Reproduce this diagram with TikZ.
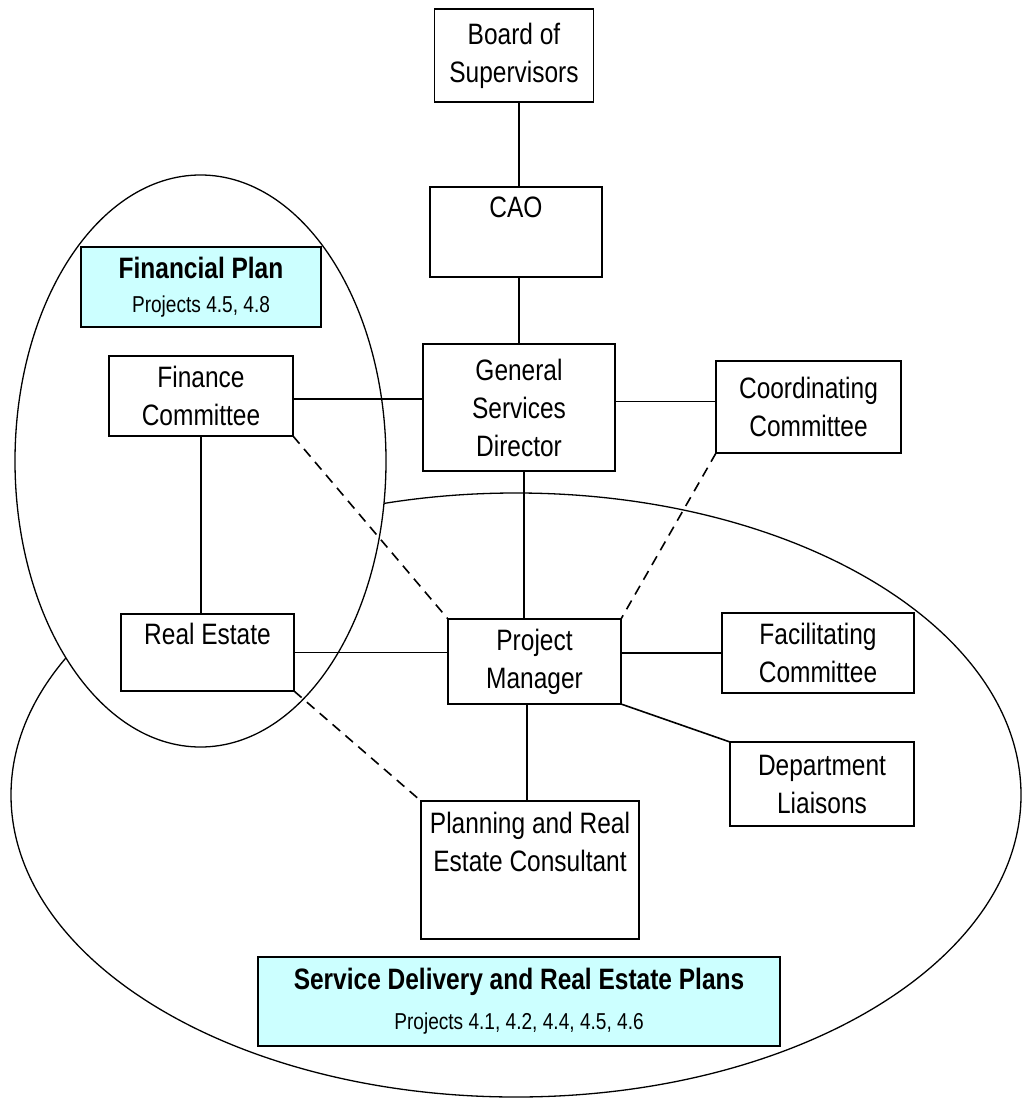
\documentclass[tikz,border=0pt]{standalone}
\usepackage{fontspec}
\setmainfont{Liberation Sans}[FakeStretch=0.83]
\usepackage{xcolor}
\usepackage{tikz}
\usetikzlibrary{positioning,calc}
\definecolor{planCyan}{RGB}{204,255,255}
\tikzset{
  orgbox/.style={
    rectangle, draw=black, line width=1.6pt, fill=white,
    inner sep=0pt, outer sep=0pt, align=center
  },
  planbox/.style={orgbox, fill=planCyan},
  link/.style={line width=1.6pt, draw=black},
  dashlink/.style={link, dash pattern=on 10pt off 7pt},
  scopering/.style={line width=1.3pt, draw=black}
}

\begin{document}
\begin{tikzpicture}[x=1pt, y=-1pt,
        font=\fontsize{29.5}{38}\selectfont,
        toplabel/.style={inner sep=0pt, align=center, anchor=north}]
  \useasboundingbox (0,0) rectangle (1021,1099);

  % the two scopes
  \draw[scopering] (516,795) ellipse [x radius=505pt, y radius=302pt];
  \draw[scopering, fill=white] (200.5,461) ellipse [x radius=185.5pt, y radius=286pt];

  % boxes
  \node[orgbox, minimum width=159pt, minimum height=93pt] (bos) at (514,55.5) {Board of\\Supervisors};
  \node[orgbox, minimum width=172pt, minimum height=90pt,
        label={[toplabel, yshift=-10pt]north:CAO}] (cao) at (516,232) {};
  \node[orgbox, minimum width=192pt, minimum height=127pt] (gsd) at (519,407.5) {General\\Services\\Director};
  \node[planbox, minimum width=240pt, minimum height=80pt] (fp) at (201,287)
        {\bfseries Financial Plan\\[-4pt]{\fontsize{23}{30}\selectfont Projects 4.5, 4.8}};
  \node[orgbox, minimum width=184pt, minimum height=80pt] (fc) at (201,396) {Finance\\Committee};
  \node[orgbox, minimum width=185pt, minimum height=92pt] (coord) at (808.5,407) {Coordinating\\Committee};
  \node[orgbox, minimum width=173pt, minimum height=77pt,
        label={[toplabel, yshift=-9pt]north:Real Estate}] (re) at (207.5,652.5) {};
  \node[orgbox, minimum width=173pt, minimum height=85pt] (pm) at (534.5,661.5) {Project\\Manager};
  \node[orgbox, minimum width=192pt, minimum height=80pt] (fac) at (818,653) {Facilitating\\Committee};
  \node[orgbox, minimum width=184pt, minimum height=84pt] (dept) at (822,784) {Department\\Liaisons};
  \node[orgbox, minimum width=218pt, minimum height=138pt,
        label={[toplabel, yshift=-11pt]north:Planning and Real\\Estate Consultant}] (plan) at (530,870) {};
  \node[planbox, minimum width=522pt, minimum height=89pt] (svc) at (519,1001.5)
        {\bfseries Service Delivery and Real Estate Plans\\[2pt]{\fontsize{23}{30}\selectfont Projects 4.1, 4.2, 4.4, 4.5, 4.6}};

  % reporting lines
  \draw[link] (bos.south -| gsd.north) -- (cao.north -| gsd.north);
  \draw[link] (cao.south -| gsd.north) -- (gsd.north);
  \draw[link] ([xshift=5pt]gsd.south) -- ([xshift=5pt]gsd.south |- pm.north);
  \draw[link] ([xshift=-3pt]pm.south -| plan.north) -- ([xshift=-3pt]plan.north);
  \draw[link] ([yshift=-3pt]fc.east) -- ([yshift=-3pt]fc.east -| gsd.west);
  \draw[link] ([yshift=6pt]gsd.east) -- ([yshift=6pt]gsd.east -| coord.west);
  \draw[link] (fc.south) -- (fc.south |- re.north);
  \draw[link] (re.east) -- (re.east -| pm.west);
  \draw[link] (pm.east |- fac.west) -- (fac.west);
  \draw[link] (pm.south east) -- (dept.north west);

  % advisory lines
  \draw[dashlink] (fc.south east) -- (pm.north west);
  \draw[dashlink] (coord.south west) -- (pm.north east);
  \draw[dashlink] (re.south east) -- (plan.north west);
\end{tikzpicture}
\end{document}
